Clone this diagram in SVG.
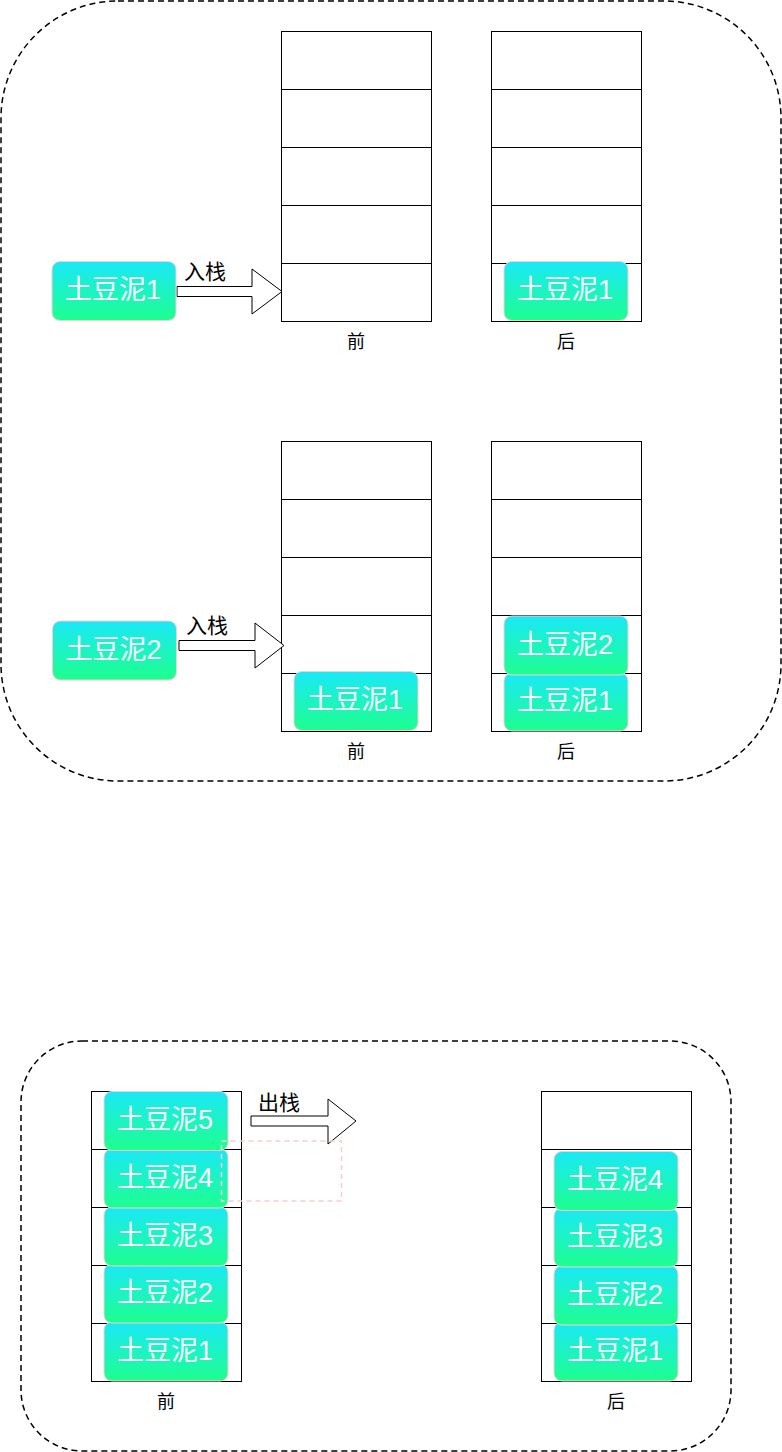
<svg xmlns="http://www.w3.org/2000/svg" width="782" height="1452" viewBox="0 0 782 1452">
<style>
.frame{fill:none;stroke:#000;stroke-width:1.5;stroke-dasharray:6 4}
.cell{fill:#fff;stroke:#000;stroke-width:1}
.node rect{fill:url(#g);stroke:#F8CECC;stroke-width:1}
.node text{fill:#fff;font-family:"Liberation Sans","Noto Sans CJK SC",sans-serif;font-size:27px;text-anchor:middle;dominant-baseline:central}
.lbl{fill:#000;font-family:"Liberation Sans","Noto Sans CJK SC",sans-serif;font-size:18px;text-anchor:middle;dominant-baseline:central}
.alb{fill:#000;font-family:"Liberation Sans","Noto Sans CJK SC",sans-serif;font-size:21px;text-anchor:start}
.arrow{fill:#fff;stroke:#000;stroke-width:1}
</style>
<defs>
<linearGradient id="g" x1="0" y1="0" x2="0" y2="1">
<stop offset="0" stop-color="#1AE8F7"/>
<stop offset="1" stop-color="#1EFF8E"/>
</linearGradient>
</defs>
<rect width="782" height="1452" fill="#fff"/>
<g id="frame-top"><rect class="frame" x="1" y="1" width="780" height="780" rx="117" ry="117"/></g>
<g id="frame-bottom"><rect class="frame" x="21" y="1041" width="710" height="410" rx="61" ry="61"/></g>

<g id="stack-a-before">
<rect class="cell" x="281.5" y="31.5" width="150" height="58"/>
<rect class="cell" x="281.5" y="89.5" width="150" height="58"/>
<rect class="cell" x="281.5" y="147.5" width="150" height="58"/>
<rect class="cell" x="281.5" y="205.5" width="150" height="58"/>
<rect class="cell" x="281.5" y="263.5" width="150" height="58"/>
</g>
<g id="stack-a-after">
<rect class="cell" x="491.5" y="31.5" width="150" height="58"/>
<rect class="cell" x="491.5" y="89.5" width="150" height="58"/>
<rect class="cell" x="491.5" y="147.5" width="150" height="58"/>
<rect class="cell" x="491.5" y="205.5" width="150" height="58"/>
<rect class="cell" x="491.5" y="263.5" width="150" height="58"/>
</g>
<g id="stack-b-before">
<rect class="cell" x="281.5" y="441.5" width="150" height="58"/>
<rect class="cell" x="281.5" y="499.5" width="150" height="58"/>
<rect class="cell" x="281.5" y="557.5" width="150" height="58"/>
<rect class="cell" x="281.5" y="615.5" width="150" height="58"/>
<rect class="cell" x="281.5" y="673.5" width="150" height="58"/>
</g>
<g id="stack-b-after">
<rect class="cell" x="491.5" y="441.5" width="150" height="58"/>
<rect class="cell" x="491.5" y="499.5" width="150" height="58"/>
<rect class="cell" x="491.5" y="557.5" width="150" height="58"/>
<rect class="cell" x="491.5" y="615.5" width="150" height="58"/>
<rect class="cell" x="491.5" y="673.5" width="150" height="58"/>
</g>
<g id="stack-c-before">
<rect class="cell" x="91.5" y="1091.5" width="150" height="58"/>
<rect class="cell" x="91.5" y="1149.5" width="150" height="58"/>
<rect class="cell" x="91.5" y="1207.5" width="150" height="58"/>
<rect class="cell" x="91.5" y="1265.5" width="150" height="58"/>
<rect class="cell" x="91.5" y="1323.5" width="150" height="58"/>
</g>
<g id="stack-c-after">
<rect class="cell" x="541.5" y="1091.5" width="150" height="58"/>
<rect class="cell" x="541.5" y="1149.5" width="150" height="58"/>
<rect class="cell" x="541.5" y="1207.5" width="150" height="58"/>
<rect class="cell" x="541.5" y="1265.5" width="150" height="58"/>
<rect class="cell" x="541.5" y="1323.5" width="150" height="58"/>
</g>

<g id="labels">
<text class="lbl" x="356" y="342">前</text>
<text class="lbl" x="566" y="342">后</text>
<text class="lbl" x="356" y="752">前</text>
<text class="lbl" x="566" y="752">后</text>
<text class="lbl" x="166" y="1402">前</text>
<text class="lbl" x="616" y="1402">后</text>
</g>

<g id="connectors">
<path class="arrow" d="M177,286.5 L252,286.5 L252,269 L282,291.5 L252,314 L252,296.5 L177,296.5 Z"/>
<text class="alb" x="184" y="279">入栈</text>
<path class="arrow" d="M179,640.5 L255,640.5 L255,623 L284,645.5 L255,668 L255,650.5 L179,650.5 Z"/>
<text class="alb" x="186" y="633">入栈</text>
<path class="arrow" d="M251,1116 L328,1116 L328,1099 L356,1121 L328,1144 L328,1126 L251,1126 Z"/>
<text class="alb" x="258" y="1110">出栈</text>
</g>

<g id="n-a-in" class="node"><rect x="52" y="261.5" width="124" height="59" rx="8"/><text x="113" y="290">土豆泥1</text></g>
<g id="n-a-after1" class="node"><rect x="504" y="261.5" width="124" height="59" rx="8"/><text x="565" y="290">土豆泥1</text></g>

<g id="n-b-in" class="node"><rect x="52.5" y="621" width="124" height="59" rx="8"/><text x="113.5" y="649.5">土豆泥2</text></g>
<g id="n-b-before1" class="node"><rect x="294" y="671.5" width="124" height="59" rx="8"/><text x="355" y="700">土豆泥1</text></g>
<g id="n-b-after1" class="node"><rect x="504" y="673" width="124" height="58" rx="8"/><text x="565" y="701">土豆泥1</text></g>
<g id="n-b-after2" class="node"><rect x="504" y="616" width="124" height="59" rx="8"/><text x="565" y="644.5">土豆泥2</text></g>

<g id="n-c-before1" class="node"><rect x="104" y="1322" width="124" height="59" rx="8"/><text x="165" y="1350.5">土豆泥1</text></g>
<g id="n-c-before2" class="node"><rect x="104" y="1264" width="124" height="59" rx="8"/><text x="165" y="1292.5">土豆泥2</text></g>
<g id="n-c-before3" class="node"><rect x="104" y="1207" width="124" height="59" rx="8"/><text x="165" y="1235.5">土豆泥3</text></g>
<g id="n-c-before4" class="node"><rect x="104" y="1149" width="124" height="59" rx="8"/><text x="165" y="1177.5">土豆泥4</text></g>
<g id="n-c-before5" class="node"><rect x="104" y="1091.5" width="124" height="59" rx="8"/><text x="165" y="1120">土豆泥5</text></g>

<g id="n-c-ghost"><rect x="221.5" y="1141" width="120" height="60" fill="none" stroke="#F8CECC" stroke-width="1.5" stroke-dasharray="5 4"/></g>

<g id="n-c-after1" class="node"><rect x="554" y="1322" width="124" height="59" rx="8"/><text x="615" y="1350.5">土豆泥1</text></g>
<g id="n-c-after2" class="node"><rect x="554" y="1266" width="124" height="59" rx="8"/><text x="615" y="1294.5">土豆泥2</text></g>
<g id="n-c-after3" class="node"><rect x="554" y="1208" width="124" height="59" rx="8"/><text x="615" y="1236.5">土豆泥3</text></g>
<g id="n-c-after4" class="node"><rect x="554" y="1151.5" width="124" height="59" rx="8"/><text x="615" y="1180">土豆泥4</text></g>
</svg>
